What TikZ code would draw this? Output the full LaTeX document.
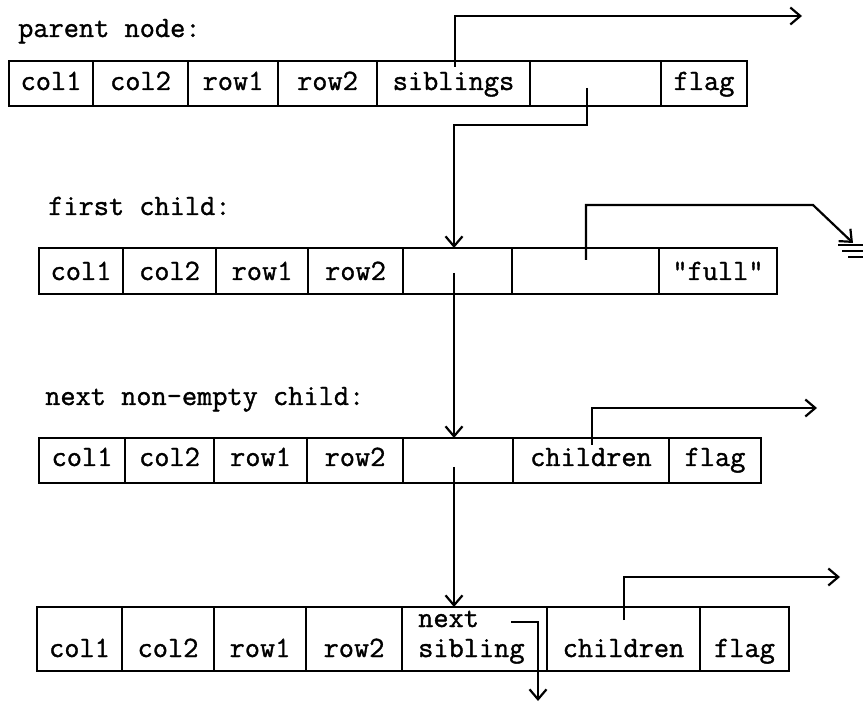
\documentclass[tikz,border=0pt]{standalone}
\usepackage{fontspec}
\newfontfamily\twfont[FakeBold=1.2]{Latin Modern Mono}
\usetikzlibrary{arrows.meta}
\newcommand\mkcell[7]{%
  \node[cell, minimum width={(#3-#2)*1pt}, minimum height={(#5-#4)*1pt}] (#1) at ({(#2+#3)/2},{(#4+#5)/2}) {};
  \node[txt, anchor=base] (#1t) at ({(#2+#3)/2},#6) {#7};
}
\begin{document}
\begin{tikzpicture}[x=1pt,y=-1pt,
  cell/.style={draw, line width=2.2pt, inner sep=0pt, outer sep=0pt},
  txt/.style={font=\fontsize{29.5}{34}\selectfont\twfont, inner sep=0pt},
  wire/.style={line width=2.2pt},
  ptr/.style={line width=2.2pt, -{Straight Barb[length=10pt,width=17pt,line width=2.2pt]}}]
\useasboundingbox (0,0) rectangle (863,703);

% headings
\node[txt, anchor=base west] (h1) at (18,37) {parent node:};
\node[txt, anchor=base west] (h2) at (48,215) {first child:};
\node[txt, anchor=base west] (h3) at (45,405) {next non-empty child:};

% row 1: parent node
\mkcell{pa}{9}{93}{61}{106}{90}{col1}
\mkcell{pb}{93}{188}{61}{106}{90}{col2}
\mkcell{pc}{188}{278}{61}{106}{90}{row1}
\mkcell{pd}{278}{377}{61}{106}{90}{row2}
\mkcell{pe}{377}{530}{61}{106}{90}{siblings}
\mkcell{pf}{530}{661}{61}{106}{90}{}
\mkcell{pg}{661}{747}{61}{106}{90}{flag}

% row 2: first child
\mkcell{qa}{39}{123}{248}{294}{280}{col1}
\mkcell{qb}{123}{216}{248}{294}{280}{col2}
\mkcell{qc}{216}{308}{248}{294}{280}{row1}
\mkcell{qd}{308}{403}{248}{294}{280}{row2}
\mkcell{qe}{403}{512}{248}{294}{280}{}
\mkcell{qf}{512}{659}{248}{294}{280}{}
\mkcell{qg}{659}{777}{248}{294}{280}{"full"}

% row 3: next non-empty child
\mkcell{ra}{39}{125}{438}{483}{466}{col1}
\mkcell{rb}{125}{214}{438}{483}{466}{col2}
\mkcell{rc}{214}{307}{438}{483}{466}{row1}
\mkcell{rd}{307}{403}{438}{483}{466}{row2}
\mkcell{re}{403}{513}{438}{483}{466}{}
\mkcell{rf}{513}{669}{438}{483}{466}{children}
\mkcell{rg}{669}{761}{438}{483}{466}{flag}

% row 4
\mkcell{sa}{37}{122}{607}{671}{657}{col1}
\mkcell{sb}{122}{214}{607}{671}{657}{col2}
\mkcell{sc}{214}{306}{607}{671}{657}{row1}
\mkcell{sd}{306}{402}{607}{671}{657}{row2}
\mkcell{se}{402}{547}{607}{671}{657}{}
\mkcell{sf}{547}{700}{607}{671}{657}{children}
\mkcell{sg}{700}{789}{607}{671}{657}{flag}
\node[txt, anchor=base west] (sn1) at (418,627) {next};
\node[txt, anchor=base west] (sn2) at (418,657) {sibling};

% connector points
\coordinate (e1) at (802,16);
\coordinate (s2) at (587,88);
\coordinate (k2) at (454,125);
\coordinate (v2) at (454,273);
\coordinate (s4) at (586,260);
\coordinate (k4) at (813,205);
\coordinate (g) at (853,243);
\coordinate (v3) at (454,467);
\coordinate (s6) at (592,445);
\coordinate (e6) at (817,408);
\coordinate (s7) at (624,620);
\coordinate (e7) at (840,577);
\coordinate (s8) at (511,622);
\coordinate (e8) at (538,701);

% connectors
\draw[ptr] ([xshift=1.5pt,yshift=-6pt]pe.north) |- (e1);
\draw[ptr] (s2) |- (k2) -- (k2 |- qe.north);
\draw[ptr] (v2) -- (v2 |- re.north);
\draw[ptr] (s4) |- (k4) -- (g);
\draw[ptr] (v3) -- (v3 |- se.north);
\draw[ptr] (s6) |- (e6);
\draw[ptr] (s7) |- (e7);
\draw[ptr] (s8) -| (e8);

% ground symbol
\draw[wire] (838,245) -- (868,245);
\draw[wire] (842,251) -- (866,251);
\draw[wire] (848,257) -- (864,257);
\end{tikzpicture}
\end{document}
